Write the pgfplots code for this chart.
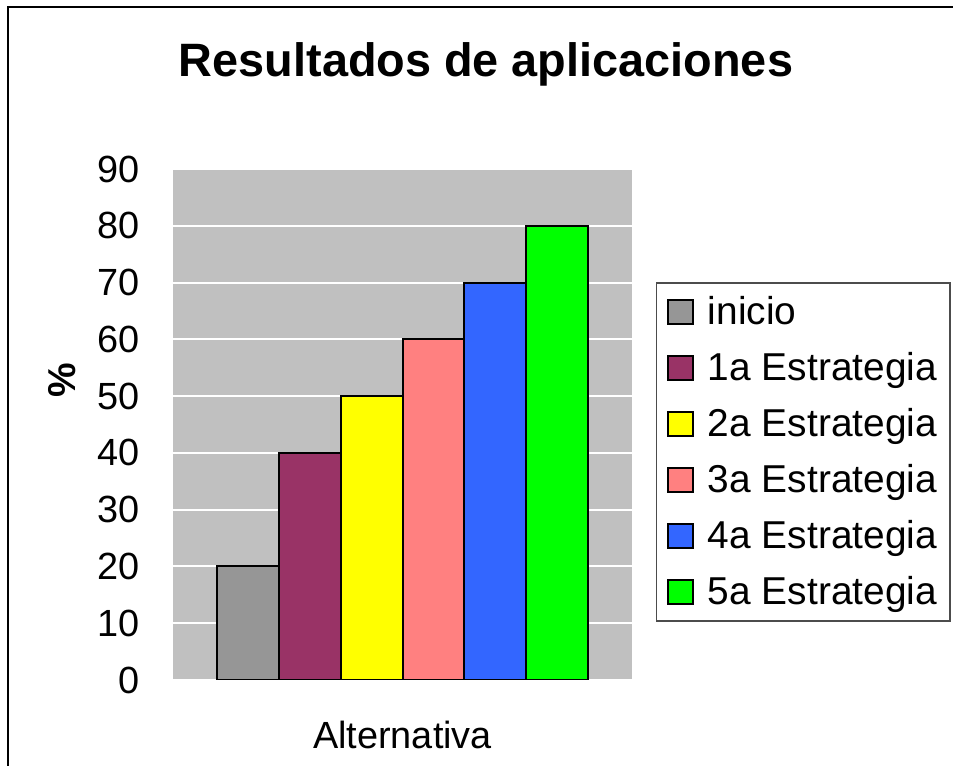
\documentclass[border=0pt]{standalone}
\usepackage{pgfplots}
\pgfplotsset{compat=1.18}
\usepackage{fontspec}
\setmainfont{Liberation Sans}
\definecolor{c0}{HTML}{969696}
\definecolor{c1}{HTML}{993366}
\definecolor{c2}{HTML}{FFFF00}
\definecolor{c3}{HTML}{FF8080}
\definecolor{c4}{HTML}{3366FF}
\definecolor{c5}{HTML}{00FF00}
\definecolor{plotbg}{HTML}{C0C0C0}
\begin{document}
\begin{tikzpicture}[x=1bp,y=1bp]
\path[use as bounding box] (0,0) rectangle (953,766);
\draw[line width=2bp] (8,0) -- (8,759) -- (953,759);
\node[font=\bfseries\fontsize{47}{52}\selectfont, anchor=base] at (486,766-77) {Resultados de aplicaciones};
\begin{axis}[
  at={(173bp,86bp)}, anchor=south west,
  width=459bp, height=511bp, scale only axis,
  xmin=-1.213, xmax=6.213,
  ymin=0, ymax=90,
  ytick={0,10,...,90},
  xtick=\empty,
  ymajorgrids,
  grid style={white, line width=2bp},
  axis line style={draw=none},
  major tick length=0pt,
  axis background/.style={fill=plotbg},
  /pgf/number format/assume math mode=true,
  yticklabel style={font=\fontsize{38}{44}\selectfont, inner sep=0pt, xshift=-33bp},
  ybar, bar width=1, bar shift=0pt,
  every axis plot/.append style={draw=black, line width=2bp},
  xlabel={Alternativa},
  xlabel style={at={(axis description cs:0.5,0)}, anchor=base, yshift=-69bp, font=\fontsize{38}{44}\selectfont},
  ylabel={\%},
  ylabel style={at={(axis description cs:-0.242,0.587)}, anchor=center, rotate=0, font=\bfseries\fontsize{39}{44}\selectfont},
  legend image code/.code={\draw[#1, line width=1.5bp] (0bp,-12bp) rectangle (25bp,12bp);},
  legend cell align=left,
  legend style={at={(axis description cs:1.052,0.778)}, anchor=north west,
    draw=black!70, line width=1.2bp, fill=white,
    font=\fontsize{39}{44}\selectfont,
    inner xsep=11bp, inner ysep=9bp, row sep=16bp, column sep=12bp,
    nodes={inner sep=2bp, text depth=6bp, text height=30bp}},
]
\addplot[fill=c0] coordinates {(0,20)};
\addplot[fill=c1] coordinates {(1,40)};
\addplot[fill=c2] coordinates {(2,50)};
\addplot[fill=c3] coordinates {(3,60)};
\addplot[fill=c4] coordinates {(4,70)};
\addplot[fill=c5] coordinates {(5,80)};
\legend{inicio,1a Estrategia,2a Estrategia,3a Estrategia,4a Estrategia,5a Estrategia}
\end{axis}
\end{tikzpicture}
\end{document}
